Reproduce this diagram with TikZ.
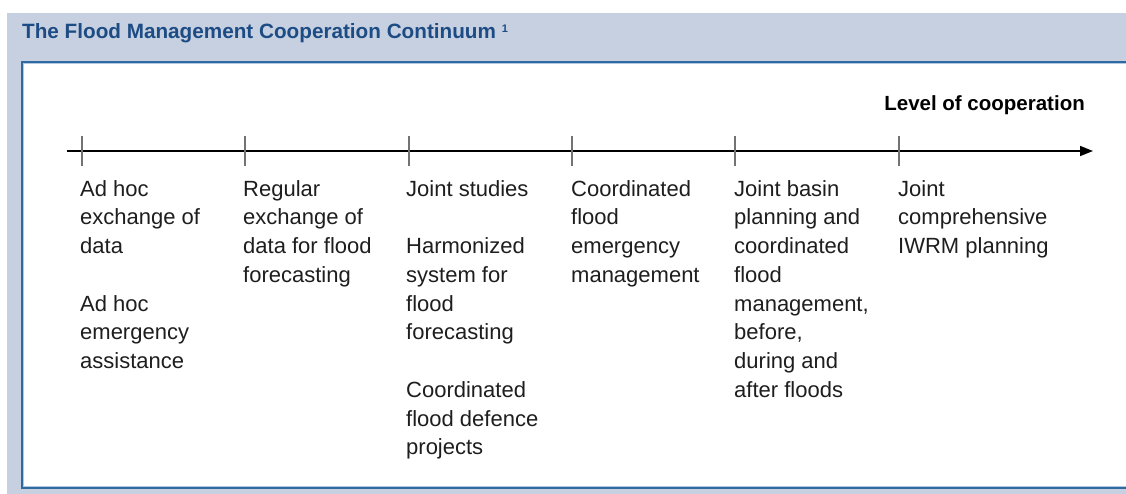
\documentclass[tikz,border=0pt]{standalone}
\usepackage{fontspec}
\setmainfont{Liberation Sans}
\usetikzlibrary{arrows.meta}
\definecolor{panelblue}{HTML}{C6D0E1}
\definecolor{frameblue}{HTML}{2E69A0}
\definecolor{framelight}{HTML}{B0C8E4}
\definecolor{titleblue}{HTML}{1D4C84}
\definecolor{textgrey}{HTML}{1E1E1E}
\begin{document}
\begin{tikzpicture}[x=1pt,y=-1pt]
        \tikzstyle{stage}=[anchor=north west,inner sep=0pt,align=left,text=textgrey,font=\fontsize{22}{28.75}\selectfont]
        \tikzstyle{tick}=[draw=black!55,line width=1.5pt]
        \tikzstyle{axis}=[draw,line width=1.5pt,-{Triangle[length=13pt,width=10pt]}]
        \useasboundingbox (0,0) rectangle (1126,494);
        % panel and frame
        \fill[panelblue] (7,13) rectangle (1126,494);
        \draw[frameblue,line width=2pt,fill=white] (22,62) rectangle (1140,488);
        \draw[framelight,line width=1pt] (23.5,63.5) rectangle (1140,486.5);
        \node[anchor=base west,inner sep=0pt,text=titleblue,font=\fontsize{20.7}{24}\selectfont\bfseries] (title) at (22,39) {The Flood Management Cooperation Continuum\hspace{6pt}\raisebox{6pt}{\fontsize{11}{11}\selectfont 1}};
        \node[anchor=base east,inner sep=0pt,font=\fontsize{20.5}{24}\selectfont\bfseries] (level) at (1085,111) {Level of cooperation};
        % axis
        \coordinate (start) at (67,151);
        \coordinate (end) at (1093,151);
        \path[axis] (start) -- (end);
        \foreach \x [count=\i] in {82,245,409,572,735,899} {
           \coordinate (t\i) at (\x,151);
           \path[tick] ([yshift=-15pt]t\i) -- ([yshift=15pt]t\i);
        }
        % stages
        \node [stage] (s1) at (80,180) {Ad hoc\\exchange of\\data\\[28.75pt]Ad hoc\\emergency\\assistance};
        \node [stage] (s2) at (243,180) {Regular\\exchange of\\data for flood\\forecasting};
        \node [stage] (s3) at (406,180) {Joint studies\\[28.75pt]Harmonized\\system for\\flood\\forecasting\\[28.75pt]Coordinated\\flood defence\\projects};
        \node [stage] (s4) at (571,180) {Coordinated\\flood\\emergency\\management};
        \node [stage] (s5) at (734,180) {Joint basin\\planning and\\coordinated\\flood\\management,\\before,\\during and\\after floods};
        \node [stage] (s6) at (898,180) {Joint\\comprehensive\\IWRM planning};
\end{tikzpicture}
\end{document}
